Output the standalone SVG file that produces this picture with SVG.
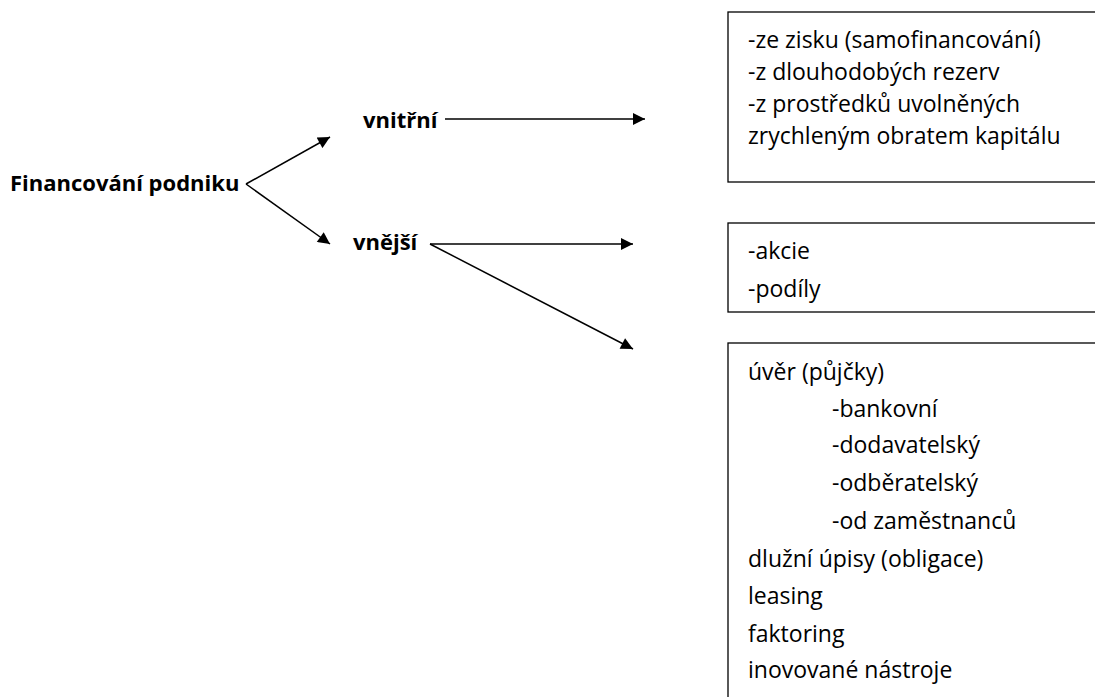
<svg xmlns="http://www.w3.org/2000/svg" width="1095" height="697" viewBox="0 0 1095 697">
<defs>
<marker id="ah" viewBox="0 0 10 10" refX="10" refY="5" markerWidth="14" markerHeight="12" markerUnits="userSpaceOnUse" orient="auto"><path d="M0,0 L10,5 L0,10 z" fill="#000"/></marker>
<style>
.t{font-family:"Open Sans","Liberation Sans",sans-serif;font-size:23px;fill:#000}
.b{font-family:"Open Sans","Liberation Sans",sans-serif;font-size:22px;font-weight:bold;fill:#000}
.box{fill:#fff;stroke:#000;stroke-width:1.3}
.c{stroke:#000;stroke-width:1.5;fill:none;marker-end:url(#ah)}
</style>
</defs>
<rect width="1095" height="697" fill="#fff"/>
<g id="root"><text class="b" x="10" y="191">Financování podniku</text></g>
<g id="vnitrni"><text class="b" x="363" y="128">vnitřní</text></g>
<g id="vnejsi"><text class="b" x="353" y="250">vnější</text></g>
<g id="box1">
<rect class="box" x="728" y="12" width="380" height="170"/>
<text class="t" x="748" y="48">-ze zisku (samofinancování)</text>
<text class="t" x="748" y="80">-z dlouhodobých rezerv</text>
<text class="t" x="748" y="112">-z prostředků uvolněných</text>
<text class="t" x="748" y="144">zrychleným obratem kapitálu</text>
</g>
<g id="box2">
<rect class="box" x="728" y="223" width="380" height="89"/>
<text class="t" x="748" y="259">-akcie</text>
<text class="t" x="748" y="297">-podíly</text>
</g>
<g id="box3">
<rect class="box" x="728" y="343" width="380" height="380"/>
<text class="t" x="748" y="380">úvěr (půjčky)</text>
<text class="t" x="832" y="417">-bankovní</text>
<text class="t" x="832" y="453">-dodavatelský</text>
<text class="t" x="832" y="491">-odběratelský</text>
<text class="t" x="832" y="529">-od zaměstnanců</text>
<text class="t" x="748" y="567">dlužní úpisy (obligace)</text>
<text class="t" x="748" y="604">leasing</text>
<text class="t" x="748" y="642">faktoring</text>
<text class="t" x="748" y="678">inovované nástroje</text>
</g>
<g id="connectors">
<line class="c" x1="246" y1="184" x2="330" y2="137"/>
<line class="c" x1="246" y1="184" x2="330" y2="244"/>
<line class="c" x1="445" y1="119" x2="645" y2="119"/>
<line class="c" x1="430" y1="244" x2="633" y2="244"/>
<line class="c" x1="430" y1="244" x2="633" y2="349"/>
</g>
</svg>
